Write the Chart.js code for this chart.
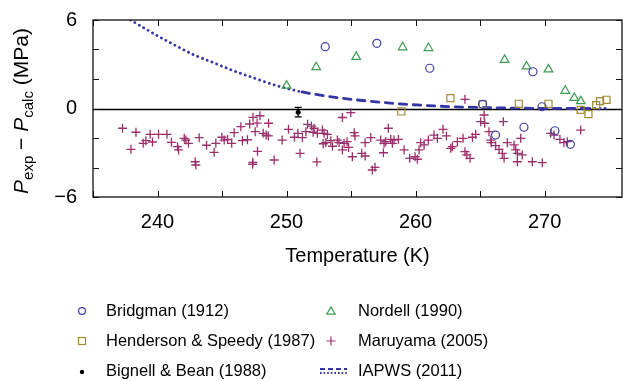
<!DOCTYPE html>
<html>
<head>
<meta charset="utf-8">
<script src="https://cdn.jsdelivr.net/npm/chart.js@4.4.1/dist/chart.umd.min.js"></script>
<style>
  html, body { margin: 0; padding: 0; background: #fff; }
  #c { display: block; }
</style>
</head>
<body>
<canvas id="c" width="623" height="381"></canvas>
<script>
// tick labels
const xTicks = [240, 250, 260, 270];
const yTicks = [-6, 0, 6];

const seriesNames = ['Bridgman (1912)', 'Nordell (1990)', 'Henderson & Speedy (1987)',
  'Maruyama (2005)', 'Bignell & Bean (1988)', 'IAPWS (2011)'];

// Bridgman (1912)
const bridgmanT = [253.0, 257.0, 261.1, 269.1, 265.2, 269.8, 266.2, 268.4, 270.8, 272.0];
const bridgmanP = [4.19, 4.42, 2.73, 2.49, 0.28, 0.12, -1.80, -1.27, -1.51, -2.43];

// Nordell (1990)
const nordellT = [250.0, 252.3, 255.4, 259.0, 261.0, 266.9, 268.6, 270.3, 271.6, 272.3, 272.8];
const nordellP = [1.55, 2.8, 3.5, 4.15, 4.1, 3.3, 2.85, 2.65, 1.2, 0.72, 0.5];

// Henderson & Speedy (1987)
const hendersonT = [258.9, 262.7, 265.2, 268.0, 270.3, 272.8, 273.4, 274.0, 274.3, 274.8];
const hendersonP = [-0.2, 0.7, 0.3, 0.32, 0.32, -0.09, -0.38, 0.23, 0.5, 0.59];

// Bignell & Bean (1988)
const bignellT = [250.9];
const bignellP = [-0.25];
const bignellErr = [0.32];

// Maruyama (2005)
const maruyamaT = [
  237.29, 237.94, 238.33, 238.89, 239.10, 239.43, 239.61, 240.08, 240.73, 241.08,
  241.55, 241.63, 242.07, 242.20, 242.40, 242.92, 242.97, 243.23, 243.80, 244.39,
  244.52, 244.99, 245.17, 245.43, 245.75, 245.94, 246.46, 246.58, 246.97, 247.14,
  247.40, 247.39, 247.37, 247.57, 247.72, 247.94, 247.75, 248.19, 248.42, 248.61,
  248.59, 249.04, 249.66, 250.15, 250.61, 250.88, 251.05, 251.23, 251.63, 251.93,
  252.14, 251.50, 252.06, 252.35, 252.39, 252.78, 252.91, 253.17, 252.84, 253.04,
  253.43, 253.56, 253.94, 254.07, 254.33, 254.46, 254.69, 254.81, 254.33, 254.98,
  255.24, 255.31, 255.10, 255.83, 256.09, 256.09, 256.53, 256.65, 256.86, 257.30,
  257.56, 257.51, 257.69, 257.89, 258.08, 258.20, 258.33, 258.67, 259.11, 259.55,
  259.96, 260.14, 260.27, 260.40, 260.66, 260.99, 261.43, 261.69, 262.13, 262.39,
  262.85, 262.73, 263.24, 263.68, 263.83, 263.83, 265.31, 265.05, 265.36, 266.80,
  264.41, 264.66, 263.97, 264.22, 265.69, 265.83, 265.87, 266.21, 266.47, 266.72,
  266.86, 267.11, 267.63, 267.76, 268.15, 267.89, 268.27, 267.89, 269.05, 269.82,
  270.47, 270.73, 271.19, 271.50, 271.76, 272.80
];
const maruyamaP = [
  -1.34, -2.77, -1.61, -2.36, -2.18, -1.75, -2.27, -1.75, -1.75, -2.29,
  -2.59, -2.81, -2.02, -2.14, -2.36, -3.61, -3.83, -1.98, -2.49, -2.97,
  -2.36, -1.95, -2.14, -2.10, -2.36, -1.64, -1.23, -2.18, -2.12, -1.05,
  -0.60, -3.65, -3.78, -1.57, -0.99, -0.49, -2.90, -1.68, -1.80, -1.00,
  -1.86, -3.49, -2.14, -1.41, -1.95, -1.68, -3.04, -1.97, -1.07, -1.19,
  -1.34, -1.57, -1.61, -3.62, -1.68, -1.46, -1.68, -1.76, -2.39, -2.31,
  -2.18, -2.56, -2.14, -2.31, -2.81, -2.36, -2.25, -2.64, -0.61, -0.28,
  -1.64, -1.86, -3.27, -3.04, -3.22, -2.32, -1.97, -4.17, -3.99, -2.14,
  -2.36, -3.00, -2.25, -1.34, -2.09, -2.36, -2.14, -2.09, -2.81, -3.38,
  -3.27, -3.44, -2.81, -2.32, -2.47, -2.14, -1.80, -2.02, -1.41, -1.86,
  -2.59, -2.70, -2.25, -2.02, -2.93, 0.62, -0.44, -0.89, -1.00, -0.89,
  -1.95, -1.75, -3.15, -3.38, -1.57, -2.14, -2.32, -2.52, -2.77, -3.04,
  -3.38, -2.32, -2.47, -2.81, -2.02, -3.04, -3.15, -3.61, -3.61, -3.67,
  -1.68, -1.80, -2.09, -2.32, -2.25, -1.46
];

// IAPWS (2011) curve
const iapwsT = [237.9, 240.0, 241.2, 242.7, 244.3, 245.8, 247.4, 248.9, 250.1, 251.2, 252.3,
  254.1, 256.7, 258.7, 261.8, 264.9, 269.6, 273.5, 274.8];
const iapwsP = [6.0, 4.93, 4.36, 3.68, 3.12, 2.59, 2.09, 1.64, 1.34, 1.12, 0.95,
  0.72, 0.47, 0.32, 0.16, 0.07, 0.01, 0.0, 0.0];
const dashFrom = 251.2, dashTo = 273.5;

const BLUE = '#3f3fa6', GREEN = '#3d9c52', OLIVE = '#a08a35', PURPLE = '#9b2f6b', LINE = '#3535a6';
const FONT = "'Liberation Sans', Arial, Helvetica, sans-serif";

const pts = (xs, ys) => xs.map((x, i) => ({ x: x, y: ys[i] }));

const decor = {
  id: 'decor',
  beforeDatasetsDraw(chart) {
    const { ctx, chartArea: a, scales: { y } } = chart;
    ctx.save();
    ctx.strokeStyle = '#000';
    ctx.lineWidth = 1.3;
    const y0 = Math.round(y.getPixelForValue(0)) + 0.5;
    ctx.beginPath(); ctx.moveTo(a.left, y0); ctx.lineTo(a.right, y0); ctx.stroke();
    ctx.restore();
  },
  afterDatasetsDraw(chart) {
    const { ctx, scales: { x, y } } = chart;
    ctx.save();
    ctx.strokeStyle = '#000';
    ctx.lineWidth = 1.2;
    bignellT.forEach((t, i) => {
      const px = x.getPixelForValue(t);
      const top = y.getPixelForValue(bignellP[i] + bignellErr[i]);
      const bot = y.getPixelForValue(bignellP[i] - bignellErr[i]);
      ctx.beginPath();
      ctx.moveTo(px, top); ctx.lineTo(px, bot);
      ctx.moveTo(px - 3.5, top); ctx.lineTo(px + 3.5, top);
      ctx.moveTo(px - 3.5, bot); ctx.lineTo(px + 3.5, bot);
      ctx.stroke();
    });
    ctx.restore();
  },
  afterDraw(chart) {
    const { ctx, chartArea: a, scales: { x, y } } = chart;
    ctx.save();
    // frame and inward ticks
    ctx.strokeStyle = '#111';
    ctx.lineWidth = 1.3;
    ctx.strokeRect(a.left, a.top, a.right - a.left, a.bottom - a.top);
    ctx.lineWidth = 1;
    ctx.beginPath();
    x.ticks.forEach(t => {
      if (t.value % 5 !== 0) return;
      const px = Math.round(x.getPixelForValue(t.value)) + 0.5;
      ctx.moveTo(px, a.bottom); ctx.lineTo(px, a.bottom - 6);
      ctx.moveTo(px, a.top); ctx.lineTo(px, a.top + 6);
    });
    y.ticks.forEach(t => {
      const py = Math.round(y.getPixelForValue(t.value)) + 0.5;
      ctx.moveTo(a.left, py); ctx.lineTo(a.left + 6, py);
      ctx.moveTo(a.right, py); ctx.lineTo(a.right - 6, py);
    });
    ctx.stroke();

    // y axis title with subscripts
    ctx.translate(28, 111);
    ctx.rotate(-Math.PI / 2);
    ctx.fillStyle = '#000';
    ctx.textBaseline = 'alphabetic';
    const parts = [
      { t: 'P', f: 'italic 21px ' + FONT, dy: 0 },
      { t: 'exp', f: '15px ' + FONT, dy: 5 },
      { t: ' \u2212 ', f: '21px ' + FONT, dy: 0 },
      { t: 'P', f: 'italic 21px ' + FONT, dy: 0 },
      { t: 'calc', f: '15px ' + FONT, dy: 5 },
      { t: ' (MPa)', f: '21px ' + FONT, dy: 0 }
    ];
    let w = 0;
    parts.forEach(p => { ctx.font = p.f; p.w = ctx.measureText(p.t).width; w += p.w; });
    let cx = -w / 2;
    parts.forEach(p => { ctx.font = p.f; ctx.fillText(p.t, cx, p.dy); cx += p.w; });
    ctx.setTransform(1, 0, 0, 1, 0, 0);

    // legend, two columns
    const col = [{ mx: 82, tx: 106 }, { mx: 331, tx: 358 }];
    const rows = [311, 341, 371];
    ctx.font = '16.5px ' + FONT;
    ctx.textBaseline = 'middle';
    ctx.textAlign = 'left';
    seriesNames.forEach((name, i) => {
      const c = col[i % 2], ry = rows[Math.floor(i / 2)];
      ctx.fillStyle = '#000';
      ctx.fillText(name, c.tx, ry);
      ctx.lineWidth = 1.2;
      ctx.beginPath();
      if (i === 0) {
        ctx.strokeStyle = BLUE; ctx.arc(c.mx, ry, 3.4, 0, Math.PI * 2); ctx.stroke();
      } else if (i === 1) {
        ctx.strokeStyle = GREEN;
        ctx.moveTo(c.mx, ry - 4); ctx.lineTo(c.mx + 4.2, ry + 3.2); ctx.lineTo(c.mx - 4.2, ry + 3.2); ctx.closePath(); ctx.stroke();
      } else if (i === 2) {
        ctx.strokeStyle = OLIVE; ctx.strokeRect(c.mx - 3.5, ry - 3.5, 7, 7);
      } else if (i === 3) {
        ctx.strokeStyle = PURPLE;
        ctx.moveTo(c.mx - 4.5, ry); ctx.lineTo(c.mx + 4.5, ry);
        ctx.moveTo(c.mx, ry - 4.5); ctx.lineTo(c.mx, ry + 4.5); ctx.stroke();
      } else if (i === 4) {
        ctx.fillStyle = '#000'; ctx.arc(c.mx, ry + 1, 2.2, 0, Math.PI * 2); ctx.fill();
      } else {
        ctx.strokeStyle = LINE; ctx.lineWidth = 1.8;
        ctx.setLineDash([5, 3]);
        ctx.moveTo(c.mx - 11, ry - 2); ctx.lineTo(c.mx + 16, ry - 2); ctx.stroke();
        ctx.beginPath();
        ctx.setLineDash([1.6, 2]);
        ctx.moveTo(c.mx - 11, ry + 2); ctx.lineTo(c.mx + 16, ry + 2); ctx.stroke();
        ctx.setLineDash([]);
      }
    });
    ctx.restore();
  }
};

new Chart(document.getElementById('c'), {
  type: 'scatter',
  data: {
    datasets: [
      {
        label: seriesNames[4],
        data: pts(bignellT, bignellP),
        pointStyle: 'circle', pointRadius: 2.5,
        backgroundColor: '#000', borderColor: '#000', borderWidth: 0
      },
      {
        label: seriesNames[0],
        data: pts(bridgmanT, bridgmanP),
        pointStyle: 'circle', pointRadius: 4,
        backgroundColor: 'rgba(0,0,0,0)', borderColor: BLUE, borderWidth: 1.2
      },
      {
        label: seriesNames[1],
        data: pts(nordellT, nordellP),
        pointStyle: 'triangle', pointRadius: 5,
        backgroundColor: 'rgba(0,0,0,0)', borderColor: GREEN, borderWidth: 1.2
      },
      {
        label: seriesNames[2],
        data: pts(hendersonT, hendersonP),
        pointStyle: 'rect', pointRadius: 5,
        backgroundColor: 'rgba(0,0,0,0)', borderColor: OLIVE, borderWidth: 1.2
      },
      {
        label: seriesNames[3],
        data: pts(maruyamaT, maruyamaP),
        pointStyle: 'cross', pointRadius: 4.5,
        borderColor: PURPLE, borderWidth: 1.3
      },
      {
        label: seriesNames[5],
        data: pts(iapwsT, iapwsP),
        showLine: true, pointRadius: 0,
        borderColor: LINE, borderWidth: 2.8,
        borderCapStyle: 'round',
        cubicInterpolationMode: 'monotone',
        segment: {
          borderDash: c => (c.p1.parsed.x <= dashFrom || c.p0.parsed.x >= dashTo) ? [0.1, 5] : [7.5, 6.5]
        }
      }
    ]
  },
  options: {
    responsive: false,
    animation: false,
    devicePixelRatio: 1,
    layout: { autoPadding: false, padding: { left: 0, right: 1, top: 20, bottom: 104 } },
    plugins: {
      legend: { display: false },
      tooltip: { enabled: false }
    },
    scales: {
      x: {
        type: 'linear', min: 235, max: 276,
        grid: { display: false },
        border: { display: false },
        ticks: {
          stepSize: 5, autoSkip: false, maxRotation: 0, padding: 5,
          color: '#000', font: { family: FONT, size: 20 },
          callback: v => xTicks.includes(v) ? String(v) : ''
        },
        title: {
          display: true, text: 'Temperature (K)', color: '#000',
          font: { family: FONT, size: 20 }, padding: { top: 0, bottom: 9 }
        },
        afterFit: s => { s.height = 80; s.paddingLeft = 0; s.paddingRight = 0; }
      },
      y: {
        min: -6, max: 6,
        grid: { display: false },
        border: { display: false },
        ticks: {
          stepSize: 2, autoSkip: false, padding: 8,
          color: '#000', font: { family: FONT, size: 20 },
          callback: v => yTicks.includes(v) ? (v < 0 ? '\u2212' + Math.abs(v) : String(v)) : ''
        },
        afterFit: s => { s.width = 93; s.paddingTop = 0; s.paddingBottom = 0; }
      }
    }
  },
  plugins: [decor]
});
</script>
</body>
</html>
